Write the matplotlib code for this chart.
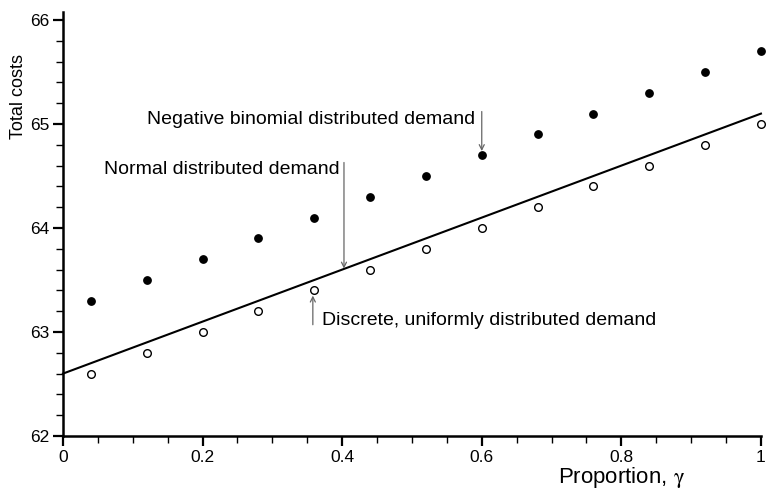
import matplotlib
matplotlib.use('Agg')
import matplotlib.pyplot as plt
from matplotlib.ticker import MultipleLocator

plt.rcParams['font.family'] = ['Liberation Sans', 'DejaVu Sans']
plt.rcParams['mathtext.fontset'] = 'stix'

# data
proportion = [0.04, 0.12, 0.20, 0.28, 0.36, 0.44, 0.52, 0.60, 0.68, 0.76, 0.84, 0.92, 1.00]
cost_negbin = [63.3, 63.5, 63.7, 63.9, 64.1, 64.3, 64.5, 64.7, 64.9, 65.1, 65.3, 65.5, 65.7]
cost_uniform = [62.6, 62.8, 63.0, 63.2, 63.4, 63.6, 63.8, 64.0, 64.2, 64.4, 64.6, 64.8, 65.0]
normal_x = [0.0, 1.0]
normal_y = [62.6, 65.1]

fig = plt.figure(figsize=(7.66, 4.9), dpi=100)
ax = fig.add_axes([0.0822, 0.1102, 0.9112, 0.8653])

ax.plot(normal_x, normal_y, color='black', lw=1.5, clip_on=False)
ax.plot(proportion, cost_negbin, 'o', color='black', ms=5.3, clip_on=False)
ax.plot(proportion, cost_uniform, 'o', mfc='white', mec='black', mew=1, ms=5.5, clip_on=False)

ax.set_xlim(0, 1)
ax.set_ylim(62, 66.077)
ax.xaxis.set_minor_locator(MultipleLocator(0.05))
ax.yaxis.set_minor_locator(MultipleLocator(0.2))
ax.set_xticks([0, 0.2, 0.4, 0.6, 0.8, 1.0])
ax.set_xticklabels(['0', '0.2', '0.4', '0.6', '0.8', '1'])
ax.set_yticks([62, 63, 64, 65, 66])

for s in ['top', 'right']:
    ax.spines[s].set_visible(False)
for s in ['left', 'bottom']:
    ax.spines[s].set_linewidth(1.8)

ax.tick_params(which='major', direction='out', length=7, width=1.6, labelsize=12.5, pad=3)
ax.tick_params(which='minor', direction='out', length=5, width=1.0)

ax.text(-0.064, 0.80, 'Total costs', transform=ax.transAxes, rotation=90,
        ha='center', va='center', fontsize=13)
ax.text(0.80, -0.098, r'Proportion, $\mathrm{\gamma}$', transform=ax.transAxes,
        ha='center', va='center', fontsize=16)

arrow = dict(arrowstyle='->', color='0.4', lw=0.9, shrinkA=0, shrinkB=0, mutation_scale=9)
ax.annotate('', xy=(0.6, 64.74), xytext=(0.6, 65.12), arrowprops=arrow)
ax.text(0.590, 65.04, 'Negative binomial distributed demand', ha='right', va='center', fontsize=14)

ax.annotate('', xy=(0.4026, 63.61), xytext=(0.4026, 64.63), arrowprops=arrow)
ax.text(0.397, 64.56, 'Normal distributed demand', ha='right', va='center', fontsize=14)

ax.annotate('', xy=(0.358, 63.35), xytext=(0.358, 63.07), arrowprops=arrow)
ax.text(0.371, 63.115, 'Discrete, uniformly distributed demand', ha='left', va='center', fontsize=14)

fig.savefig('out.png', dpi=100)
